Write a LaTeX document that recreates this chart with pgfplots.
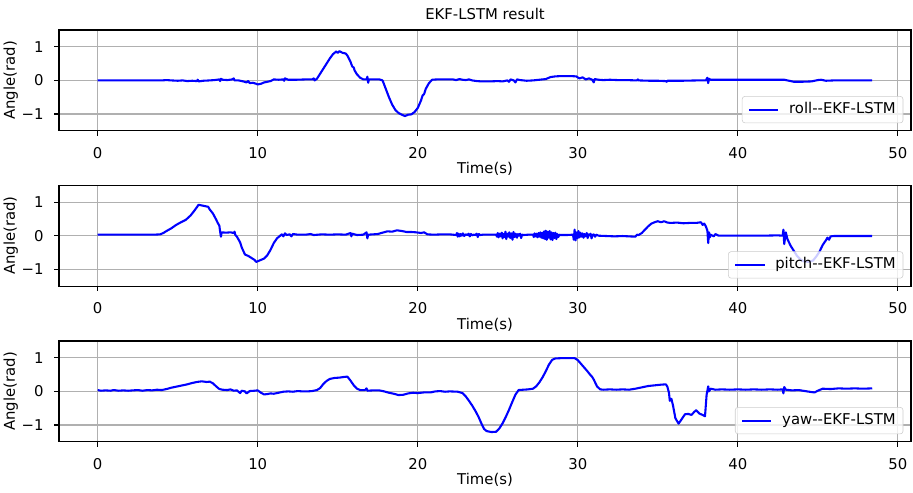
\documentclass[border=0pt]{standalone}
\usepackage{fontspec}
\setmainfont{DejaVu Sans}[Ligatures=TeXOff]
\usepackage{pgfplots}
\pgfplotsset{compat=1.18}

% estimated angles (rad) against time (s)
\pgfplotstableread{
t v
0 0.00
1 0.00
2 0.00
3 0.00
4 0.00
4.3 0.01
4.6 0.00
5.0 -0.01
5.3 0.00
5.6 -0.02
5.9 -0.01
6.2 -0.02
6.25 0.02
6.3 -0.03
6.6 -0.01
7.0 0.00
7.3 0.01
7.6 0.03
7.65 -0.02
7.7 0.05
7.8 0.02
8.1 0.01
8.4 0.03
8.5 0.06
8.55 0.00
8.8 0.00
9.1 -0.03
9.3 -0.06
9.4 -0.02
9.5 -0.08
9.7 -0.07
9.9 -0.10
10.0 -0.12
10.2 -0.10
10.4 -0.06
10.6 -0.04
10.8 -0.02
11.0 0.03
11.3 0.02
11.6 0.03
11.65 -0.01
11.7 0.06
11.9 0.02
12.4 0.02
13.0 0.03
13.4 0.03
13.5 0.06
13.55 0.00
13.7 0.05
13.9 0.20
14.1 0.35
14.3 0.50
14.5 0.65
14.7 0.78
14.9 0.86
15.0 0.82
15.1 0.87
15.3 0.82
15.5 0.80
15.6 0.74
15.8 0.55
15.9 0.42
16.0 0.38
16.05 0.30
16.2 0.18
16.4 0.08
16.6 0.03
16.8 0.03
16.85 0.11
16.9 -0.07
16.95 0.03
17.6 0.03
17.8 0.00
18.0 -0.25
18.2 -0.50
18.4 -0.72
18.6 -0.88
18.8 -0.97
19.0 -1.02
19.2 -1.06
19.4 -1.02
19.6 -1.01
19.8 -0.94
20.0 -0.82
20.2 -0.60
20.3 -0.45
20.4 -0.40
20.5 -0.25
20.7 -0.08
20.9 0.02
21.2 0.03
21.8 0.03
22.2 0.03
22.4 0.01
22.6 0.04
22.8 0.02
23.0 0.01
23.2 0.03
23.4 0.00
23.7 -0.02
24.0 -0.03
24.5 -0.03
25.0 -0.02
25.3 -0.03
25.6 0.00
25.7 -0.04
25.8 0.03
26.0 0.00
26.1 -0.06
26.2 0.03
26.4 0.01
26.8 -0.01
27.2 0.00
27.6 0.02
28.0 0.04
28.3 0.10
28.6 0.12
29.0 0.13
29.5 0.13
29.9 0.12
30.1 0.06
30.3 0.09
30.5 0.03
30.7 0.06
30.9 0.02
31.0 -0.06
31.05 0.04
31.3 0.02
31.6 0.01
32.0 0.02
32.5 0.01
33.0 0.01
33.7 0.00
33.75 0.03
33.8 0.00
34.5 -0.01
35.0 -0.01
35.5 -0.02
35.55 -0.04
35.6 -0.01
36.5 -0.01
37.5 0.00
38.0 0.00
38.1 0.08
38.15 -0.08
38.2 0.05
38.3 0.02
38.6 0.02
39.5 0.02
40.5 0.02
41.5 0.02
42.5 0.02
42.9 0.02
43.2 -0.01
43.5 -0.04
44.0 -0.04
44.6 -0.03
45.0 0.01
45.2 0.02
45.5 -0.01
46 0.00
47 0.00
48.4 0.00
}\rolldata

\pgfplotstableread{
t v
0 0.03
3.5 0.03
3.9 0.04
4.1 0.08
4.3 0.14
4.6 0.22
4.9 0.32
5.2 0.40
5.5 0.47
5.8 0.60
6.0 0.72
6.2 0.85
6.3 0.92
6.5 0.90
6.7 0.88
6.9 0.86
7.0 0.78
7.2 0.66
7.4 0.48
7.5 0.38
7.6 0.30
7.65 0.12
7.7 -0.03
7.75 0.10
8.0 0.09
8.3 0.10
8.5 0.08
8.55 0.12
8.6 0.02
8.7 -0.03
8.9 -0.20
9.0 -0.35
9.2 -0.56
9.4 -0.60
9.6 -0.66
9.8 -0.72
9.9 -0.78
10.0 -0.76
10.2 -0.72
10.4 -0.68
10.6 -0.58
10.8 -0.42
11.0 -0.22
11.2 -0.08
11.4 0.00
11.5 0.04
11.6 -0.02
11.7 0.07
11.8 0.02
12.0 0.04
12.1 -0.02
12.2 0.05
12.5 0.03
13.0 0.03
13.3 0.05
13.5 0.02
14.0 0.04
14.5 0.03
15.0 0.04
15.5 0.03
15.8 0.08
15.85 -0.02
15.9 0.06
16.2 0.02
16.6 0.03
16.8 0.10
16.85 -0.08
16.9 0.03
17.5 0.05
17.8 0.09
18.1 0.13
18.4 0.12
18.7 0.16
19.0 0.14
19.3 0.11
19.6 0.11
19.9 0.10
20.2 0.08
20.4 0.10
20.6 0.04
21.0 0.03
21.5 0.04
22.0 0.04
22.40 0.02
22.45 0.08
22.50 -0.03
22.55 0.06
22.62 -0.02
22.68 0.05
22.75 0.00
22.82 0.07
22.90 -0.01
23.00 0.04
23.10 0.02
23.18 0.06
23.25 -0.02
23.32 0.05
23.40 0.01
23.50 0.03
23.60 0.02
23.68 0.06
23.75 -0.04
23.82 0.05
23.90 0.02
24.05 0.03
24.50 0.03
24.90 0.03
24.95 -0.03
25.00 0.08
25.05 -0.05
25.12 0.06
25.18 -0.02
25.25 0.09
25.30 -0.08
25.36 0.05
25.42 -0.04
25.48 0.12
25.53 -0.10
25.60 0.06
25.66 -0.03
25.72 0.10
25.78 -0.07
25.85 0.07
25.92 -0.12
25.98 0.11
26.05 -0.04
26.12 0.06
26.20 -0.06
26.26 0.05
26.32 0.00
26.40 0.06
26.46 -0.07
26.52 0.03
26.60 0.02
26.90 0.03
27.20 0.03
27.25 -0.04
27.30 0.07
27.36 -0.02
27.42 0.06
27.48 -0.05
27.55 0.08
27.60 -0.03
27.66 0.10
27.72 -0.06
27.78 0.09
27.84 -0.08
27.90 0.13
27.95 -0.10
28.00 0.15
28.06 -0.12
28.12 0.12
28.18 -0.06
28.24 0.14
28.30 -0.11
28.36 0.10
28.42 -0.13
28.48 0.08
28.54 -0.07
28.60 0.09
28.66 -0.10
28.72 0.05
28.78 -0.04
28.85 0.03
28.90 0.02
29.30 0.02
29.70 0.03
29.75 -0.12
29.80 0.18
29.86 -0.14
29.92 0.10
29.98 -0.08
30.04 0.14
30.10 -0.05
30.16 0.09
30.22 -0.03
30.30 0.07
30.36 -0.06
30.42 0.05
30.50 -0.02
30.56 0.08
30.62 -0.07
30.68 0.04
30.74 0.01
30.80 0.06
30.86 -0.08
30.92 0.02
31.00 0.04
31.08 -0.03
31.16 0.03
31.30 0.00
31.8 -0.01
32.3 -0.02
32.8 -0.01
33.2 -0.02
33.6 -0.03
33.7 0.03
33.8 0.02
34.0 0.08
34.2 0.18
34.4 0.28
34.6 0.36
34.8 0.40
35.0 0.43
35.2 0.40
35.4 0.43
35.6 0.39
35.8 0.38
36.2 0.39
36.6 0.37
37.0 0.38
37.4 0.38
37.7 0.40
37.8 0.32
37.9 0.36
38.0 0.28
38.1 0.15
38.15 -0.22
38.2 0.10
38.25 -0.05
38.3 0.03
38.5 -0.02
38.6 0.05
38.8 0.00
39.5 0.00
40.5 0.00
41.5 0.00
42.5 0.01
42.8 0.00
42.85 0.18
42.9 -0.25
43.0 0.10
43.1 -0.10
43.3 -0.30
43.5 -0.45
43.7 -0.60
43.9 -0.70
44.1 -0.76
44.4 -0.78
44.7 -0.74
44.9 -0.62
45.1 -0.48
45.3 -0.28
45.5 -0.14
45.6 -0.06
45.7 -0.12
45.8 -0.02
46.0 -0.01
47 -0.01
48.4 -0.01
}\pitchdata

\pgfplotstableread{
t v
0 0.04
0.2 0.02
0.5 0.03
0.8 0.02
1.0 0.04
1.3 0.02
1.6 0.03
1.9 0.02
2.2 0.03
2.5 0.04
2.8 0.02
3.1 0.04
3.4 0.03
3.7 0.05
4.0 0.04
4.3 0.07
4.6 0.11
4.9 0.14
5.2 0.17
5.6 0.21
5.9 0.25
6.2 0.28
6.5 0.30
6.8 0.28
7.0 0.29
7.2 0.24
7.4 0.15
7.6 0.07
7.8 0.05
8.1 0.04
8.3 0.06
8.5 0.02
8.7 0.03
8.9 -0.05
9.0 0.02
9.2 0.00
9.3 -0.06
9.5 0.01
9.8 0.02
10.0 0.03
10.2 -0.04
10.4 -0.09
10.6 -0.08
10.8 -0.06
11.0 -0.07
11.3 -0.04
11.6 -0.01
11.9 0.00
12.2 -0.01
12.5 0.01
12.8 0.00
13.1 0.00
13.4 0.01
13.7 0.04
13.9 0.10
14.1 0.22
14.3 0.31
14.5 0.37
14.8 0.40
15.1 0.41
15.4 0.43
15.6 0.44
15.8 0.32
16.0 0.18
16.2 0.08
16.4 0.04
16.7 0.04
16.8 0.09
16.85 0.02
17.2 0.03
17.6 0.03
17.9 0.00
18.2 -0.04
18.5 -0.07
18.8 -0.11
19.1 -0.10
19.4 -0.06
19.7 -0.04
20.0 -0.05
20.4 -0.03
20.8 -0.03
21.1 0.00
21.4 0.01
21.7 -0.01
22.0 0.00
22.5 -0.01
22.8 -0.05
23.0 -0.15
23.2 -0.28
23.4 -0.42
23.6 -0.58
23.8 -0.76
24.0 -0.98
24.15 -1.12
24.3 -1.18
24.6 -1.21
24.9 -1.20
25.1 -1.10
25.3 -0.95
25.5 -0.76
25.7 -0.55
25.9 -0.32
26.1 -0.10
26.3 0.04
26.6 0.05
26.9 0.06
27.2 0.08
27.4 0.15
27.6 0.27
27.8 0.42
28.0 0.60
28.2 0.80
28.4 0.94
28.6 0.98
29.0 0.99
29.5 0.99
29.8 0.99
30.0 0.93
30.2 0.82
30.4 0.71
30.6 0.60
30.8 0.48
30.9 0.43
31.0 0.35
31.2 0.15
31.4 0.06
31.6 0.05
32.0 0.06
32.4 0.05
32.8 0.06
33.2 0.05
33.6 0.08
34.0 0.12
34.4 0.16
34.8 0.18
35.2 0.20
35.5 0.21
35.6 0.14
35.7 -0.05
35.75 -0.28
35.85 -0.22
35.95 -0.42
36.1 -0.80
36.3 -0.96
36.5 -0.82
36.7 -0.68
36.9 -0.67
37.1 -0.70
37.3 -0.60
37.4 -0.56
37.6 -0.66
37.8 -0.70
37.95 -0.74
38.05 -0.10
38.15 0.15
38.2 0.00
38.3 0.08
38.6 0.05
39.0 0.06
39.5 0.05
40.0 0.06
40.5 0.05
41.0 0.06
41.5 0.05
42.0 0.06
42.5 0.05
42.8 0.06
42.85 -0.06
42.9 0.13
43.0 0.05
43.4 0.03
43.8 0.04
44.2 0.01
44.6 -0.02
44.8 -0.03
45.0 0.02
45.3 0.08
45.8 0.07
46.3 0.09
46.8 0.08
47.3 0.09
47.8 0.08
48.4 0.09
}\yawdata

\pgfplotsset{
  angpanel/.style={
    scale only axis, width=613.4pt, height=72.6pt,
    anchor=north west,
    xmin=-2.42, xmax=50.82, ymin=-1.5, ymax=1.5,
    xtick={0,10,20,30,40,50},
    ytick={-1,0,1}, yticklabels={−1,0,1},
    tick pos=left, tick align=outside,
    major tick length=3.5pt,
    every tick/.style={black, line width=0.8pt},
    axis line style={line width=0.8pt},
    grid=major,
    major grid style={color=black!31, line width=0.8pt},
    /pgf/number format/assume math mode=true,
    xticklabel style={inner sep=0pt, anchor=north, yshift=-8.2pt},
    yticklabel style={inner sep=0pt, anchor=east, xshift=-7.4pt},
    xlabel={Time(s)}, ylabel={Angle(rad)},
    xlabel style={at={(axis description cs:0.5,0)}, anchor=north,
                  inner sep=0pt, yshift=-22.6pt},
    ylabel style={at={(axis description cs:-0.0478,0.5)}, anchor=south,
                  inner sep=0pt},
    legend cell align=left,
    legend image code/.code={\draw[##1] (0pt,0pt) -- (21pt,0pt);},
    legend style={at={(axis description cs:0.991,0.076)}, anchor=south east,
      draw=black!20, rounded corners=2pt, fill=white, fill opacity=0.8,
      text opacity=1, inner xsep=4.3pt, inner ysep=4.3pt,
      column sep=6pt,
      nodes={inner xsep=1pt, inner ysep=0pt, text height=8pt, text depth=2.5pt}},
  },
  angline/.style={blue, line width=1.5pt, line join=round},
}

\begin{document}
\fontsize{10.7}{12.8}\selectfont
\begin{tikzpicture}
\useasboundingbox (0,0) rectangle (657.36pt,-354.96pt);

\begin{axis}[angpanel, at={(42.48pt,-21.6pt)},
  title={EKF-LSTM result},
  title style={at={(axis description cs:0.5,1)}, anchor=base, inner sep=0pt, yshift=1.9pt}]
  \addplot[angline] table[x=t, y=v] {\rolldata};
  \addlegendentry{roll--EKF-LSTM}
\end{axis}

\begin{axis}[angpanel, at={(42.48pt,-133.4pt)}]
  \addplot[angline] table[x=t, y=v] {\pitchdata};
  \addlegendentry{pitch--EKF-LSTM}
\end{axis}

\begin{axis}[angpanel, at={(42.48pt,-245.5pt)}]
  \addplot[angline] table[x=t, y=v] {\yawdata};
  \addlegendentry{yaw--EKF-LSTM}
\end{axis}
\end{tikzpicture}
\end{document}
